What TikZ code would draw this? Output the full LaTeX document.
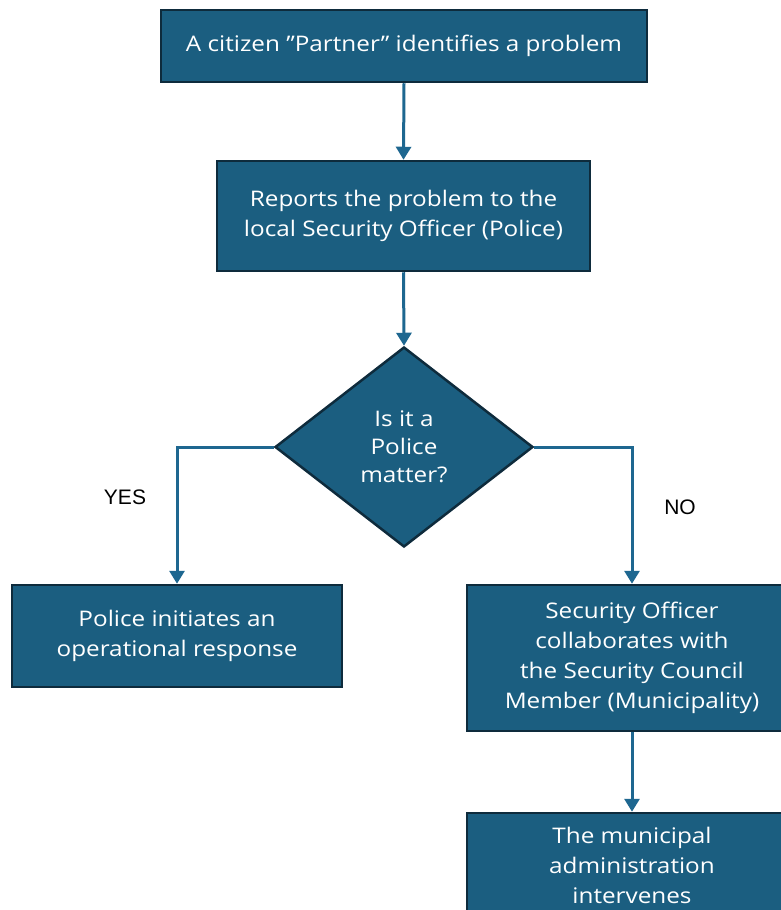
\documentclass[tikz,border=0pt]{standalone}
\usepackage{fontspec}
\setmainfont{Open Sans}[Ligatures={NoCommon}, FakeStretch=1.13]
\newfontfamily\labelfont{Liberation Sans}
\usetikzlibrary{shapes.geometric,arrows.meta}
\definecolor{fillcol}{HTML}{1B5E80}
\definecolor{bordercol}{HTML}{0E2B3C}
\definecolor{arrowcol}{HTML}{1E6790}
\tikzset{
  box/.style={draw=bordercol, line width=2.5pt, fill=fillcol, text=white,
    font=\fontsize{21.5}{30}\selectfont, align=center, inner sep=0pt},
  decision/.style={diamond, draw=bordercol, line width=2.5pt, fill=fillcol, text=white,
    font=\fontsize{21.5}{28}\selectfont, align=center, inner sep=0pt,
    minimum width=258pt, minimum height=200pt},
  conn/.style={draw=arrowcol, line width=3pt, -{Triangle[length=13pt,width=15pt]}},
  lbl/.style={font=\labelfont\fontsize{21}{24}\selectfont, text=black}
}
\begin{document}
\begin{tikzpicture}[x=1pt,y=-1pt]
\clip (0,0) rectangle (781,910);
\fill[white] (0,0) rectangle (781,910);
\node[box, minimum width=486pt, minimum height=72pt] (b1) at (404,46) {A citizen \symbol{34}Partner\symbol{34} identifies a problem};
\node[box, minimum width=373pt, minimum height=110pt] (b2) at (403.5,216) {Reports the problem to the\\local Security Officer (Police)};
\node[decision] (d) at (404,447) {Is it a\\Police\\matter?};
\node[box, minimum width=330pt, minimum height=102pt] (yes) at (177,636) {Police initiates an\\operational response};
\node[box, minimum width=330pt, minimum height=146pt] (no) at (632,658) {Security Officer\\collaborates with\\the Security Council\\Member (Municipality)};
\node[box, minimum width=330pt, minimum height=104pt] (mun) at (632,865) {The municipal\\administration\\intervenes};
\node[lbl] (ly) at (125,497) {YES};
\node[lbl] (ln) at (680,507) {NO};
\draw[conn] (b1.south) -- (b2.north);
\draw[conn] (b2.south) -- (d.north);
\draw[conn] (d.west) -| (yes.north);
\draw[conn] (d.east) -| (no.north);
\draw[conn] (no.south) -- (mun.north);
\end{tikzpicture}
\end{document}
